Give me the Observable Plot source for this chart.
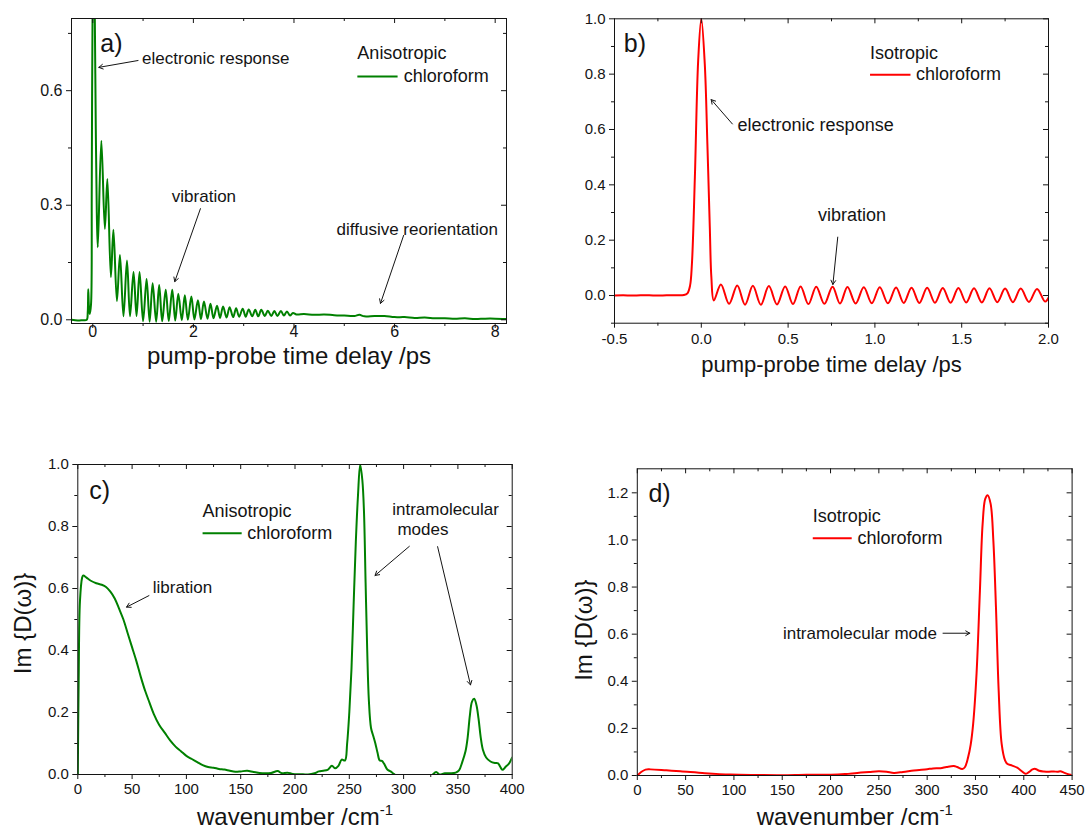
<!DOCTYPE html>
<html>
<head>
<meta charset="utf-8">
<script src="https://cdn.jsdelivr.net/npm/d3@7"></script>
<script src="https://cdn.jsdelivr.net/npm/@observablehq/plot@0.6"></script>
<style>
  html, body { margin: 0; padding: 0; background: #fff; }
  #wrap { position: relative; width: 1086px; height: 832px; background: #fff; }
  .panel { position: absolute; }
</style>
</head>
<body>
<div id="wrap"></div>
<script>
// ---------------- DATA ----------------
// a) anisotropic chloroform, pump-probe signal vs time delay (ps)
const anisoTimeTrace = [
  [-0.42,0],[-0.3,-0.002],[-0.2,-0.001],[-0.12,0],[-0.1,0.02],[-0.09,0.08],[-0.075,0.03],[-0.06,0.015],
  [-0.035,0.04],[-0.02,0.35],[0,0.9],[0.02,1.0],[0.04,0.8],[0.06,0.5],[0.08,0.28],[0.10,0.19],
  [0.17,0.469],[0.24,0.238],[0.29,0.369],[0.36,0.112],[0.41,0.236],[0.48,0.049],[0.54,0.170],[0.61,0.009],
  [0.68,0.155],[0.74,0.009],[0.81,0.125],[0.87,0.010],[0.93,0.125],[1.00,-0.004],[1.07,0.107],[1.13,-0.005],
  [1.19,0.096],[1.26,-0.005],[1.32,0.091],[1.38,-0.004],[1.45,0.079],[1.51,-0.003],[1.58,0.079],[1.64,-0.002],
  [1.70,0.068],[1.77,-0.001],[1.83,0.064],[1.89,0.000],[1.96,0.061],[2.02,0.001],[2.09,0.051],[2.15,0.002],
  [2.21,0.048],[2.28,0.003],[2.34,0.042],[2.40,0.004],[2.47,0.037],[2.53,0.005],[2.59,0.035],[2.66,0.006],
  [2.72,0.033],[2.79,0.007],[2.85,0.030],[2.91,0.008],[2.98,0.029],[3.04,0.008],[3.10,0.027],[3.17,0.009],
  [3.23,0.026],[3.29,0.009],[3.35,0.026],[3.42,0.010],[3.48,0.024],[3.55,0.010],[3.61,0.023],[3.67,0.010],
  [3.74,0.023],[3.80,0.011],[3.86,0.022],[3.92,0.011],[3.98,0.018],[4.05,0.014],[4.2,0.015],[4.4,0.013],
  [4.6,0.014],[4.8,0.012],[5.0,0.011],[5.2,0.010],[5.3,0.013],[5.4,0.009],[5.6,0.010],[5.8,0.010],
  [6.0,0.007],[6.2,0.007],[6.4,0.005],[6.6,0.006],[6.8,0.004],[7.0,0.004],[7.2,0.003],[7.4,0.004],
  [7.6,0.002],[7.8,0.003],[8.0,0.003],[8.22,0.002]
];

// b) isotropic chloroform, pump-probe signal vs time delay (ps)
const isoTimeTrace = [
  [-0.5,0],[-0.45,0.001],[-0.4,0],[-0.35,0.001],[-0.3,0.001],[-0.25,0],[-0.2,0.001],[-0.15,0.001],
  [-0.1,0.002],[-0.08,0.008],[-0.065,0.035],[-0.054,0.115],[-0.037,0.428],[-0.018,0.849],[0,1.0],
  [0.02,0.837],[0.035,0.548],[0.049,0.247],[0.058,0.066],[0.072,-0.018],
  [0.113,0.040],[0.160,-0.030],[0.207,0.036],[0.252,-0.033],[0.297,0.035],[0.343,-0.033],[0.389,0.034],
  [0.436,-0.032],[0.483,0.033],[0.528,-0.031],[0.572,0.033],[0.617,-0.031],[0.662,0.032],[0.709,-0.030],
  [0.756,0.032],[0.799,-0.029],[0.842,0.031],[0.889,-0.029],[0.936,0.030],[0.982,-0.028],[1.028,0.030],
  [1.075,-0.028],[1.122,0.029],[1.166,-0.027],[1.211,0.028],[1.256,-0.027],[1.301,0.028],[1.346,-0.026],
  [1.391,0.027],[1.436,-0.026],[1.481,0.027],[1.526,-0.025],[1.571,0.026],[1.616,-0.025],[1.660,0.026],
  [1.705,-0.024],[1.750,0.025],[1.795,-0.024],[1.840,0.025],[1.887,-0.023],[1.934,0.024],[1.980,-0.022],
  [2.0,-0.008]
];

// c) anisotropic chloroform, Im{D(w)} vs wavenumber (cm-1)
const anisoSpectrum = [
  [0,0],[0.8,0.30],[2,0.56],[4,0.635],[5,0.642],[8,0.635],[12,0.625],[17,0.617],[22,0.612],[26,0.605],
  [30,0.59],[34,0.568],[38,0.535],[42,0.5],[46,0.455],[50,0.41],[54,0.365],[58,0.315],[62,0.27],[66,0.232],
  [70,0.195],[75,0.16],[80,0.135],[85,0.11],[90,0.09],[95,0.075],[100,0.06],[105,0.05],[110,0.04],
  [115,0.03],[120,0.024],[125,0.022],[130,0.018],[135,0.016],[140,0.012],[145,0.009],[150,0.010],
  [156,0.012],[162,0.008],[170,0.004],[178,0.005],[184,0.011],[188,0.004],[193,0.006],[198,0.002],
  [205,0.001],[212,0.0],[218,0.004],[222,0.010],[226,0.012],[230,0.015],[234,0.028],[237,0.020],
  [240,0.028],[243,0.048],[246,0.045],[248,0.10],[250,0.20],[252,0.34],[254,0.55],[256,0.75],[258,0.90],
  [260,1.0],[262,0.95],[263.5,0.85],[265,0.62],[266.5,0.40],[268,0.24],[270,0.15],[272,0.125],[274,0.10],
  [276,0.07],[278,0.045],[280,0.044],[282,0.035],[285,0.016],[288,0.010],[291,0.002],[296,-0.01],
  [305,-0.02],[315,-0.02],[325,-0.005],[330,0.008],[333,0.0],[338,0.004],[343,0.004],[348,0.006],
  [351,0.013],[354,0.04],[357,0.075],[359,0.12],[361,0.19],[363,0.235],[365,0.244],[367,0.225],
  [369,0.18],[371,0.12],[373,0.08],[376,0.055],[380,0.042],[384,0.037],[387,0.036],[389,0.025],
  [391,0.015],[394,0.025],[397,0.035],[400,0.055]
];

// d) isotropic chloroform, Im{D(w)} vs wavenumber (cm-1)
const isoSpectrum = [
  [0,0],[4,0.015],[8.5,0.025],[13.7,0.026],[30,0.022],[44.7,0.018],[70,0.01],[96.5,0.004],[125,0.002],
  [150,0.001],[175,0.003],[200,0.003],[215,0.006],[227.6,0.011],[240,0.015],[250,0.018],[258,0.016],
  [265.5,0.011],[275,0.015],[286.2,0.021],[300,0.027],[306,0.030],[313.8,0.031],[320,0.036],[327.6,0.040],
  [331,0.036],[336.3,0.028],[339,0.035],[342.4,0.078],[345,0.13],[347.6,0.219],[351.1,0.432],[354.6,0.785],
  [357.4,1.068],[360.1,1.174],[362.6,1.19],[365.7,1.153],[368.5,0.997],[371.2,0.714],[374,0.361],
  [377.1,0.134],[380.6,0.064],[382.8,0.050],[388,0.042],[393.2,0.033],[398,0.018],[401.8,0.007],
  [405.2,0.014],[409,0.026],[412.1,0.028],[416,0.02],[420.7,0.017],[426,0.016],[431.1,0.017],[435,0.016],
  [438,0.018],[441,0.013],[444.9,0.007],[448.3,0.003],[450,0.002]
];

// tick values
const ticksA = { xMajor: [0,2,4,6,8], xMinor: [1,3,5,7], yMajor: [0,0.3,0.6], yMinor: [0.15,0.45,0.75] };
const ticksB = { xMajor: [-0.5,0,0.5,1,1.5,2], xMinor: [-0.25,0.25,0.75,1.25,1.75],
                 yMajor: [0,0.2,0.4,0.6,0.8,1.0], yMinor: [-0.1,0.1,0.3,0.5,0.7,0.9] };
const ticksC = { xMajor: [0,50,100,150,200,250,300,350,400], xMinor: [25,75,125,175,225,275,325,375],
                 yMajor: [0,0.2,0.4,0.6,0.8,1.0], yMinor: [0.1,0.3,0.5,0.7,0.9] };
const ticksD = { xMajor: [0,50,100,150,200,250,300,350,400,450], xMinor: [25,75,125,175,225,275,325,375,425],
                 yMajor: [0,0.2,0.4,0.6,0.8,1.0,1.2], yMinor: [0.1,0.3,0.5,0.7,0.9,1.1] };

// texts
const timeAxisLabel = "pump-probe time delay /ps";
const waveAxisLabel = "wavenumber /cm";
const waveAxisSup = "-1";
const specAxisLabel = "Im {D(\u03c9)}";

// annotations (data coordinates)
const letterA = {label: "a)", x: 0.15, y: 0.723};
const legendA = {title: "Anisotropic", name: "chloroform", x: 5.26, x2: 6.06, xName: 6.18, yTitle: 0.697, yLine: 0.637};
const notesA = [
  {label: "electronic response", x: 0.98, y: 0.683, anchor: "start"},
  {label: "vibration", x: 2.21, y: 0.324, anchor: "middle"},
  {label: "diffusive reorientation", x: 6.45, y: 0.236, anchor: "middle"}
];
const arrowsA = [
  {x1: 0.90, y1: 0.679, x2: 0.12, y2: 0.661},
  {x1: 2.14, y1: 0.291, x2: 1.63, y2: 0.100},
  {x1: 6.18, y1: 0.221, x2: 5.72, y2: 0.043}
];

const letterB = {label: "b)", x: -0.446, y: 0.910};
const legendB = {title: "Isotropic", name: "chloroform", x: 0.972, x2: 1.205, xName: 1.237, yTitle: 0.876, yLine: 0.798};
const notesB = [
  {label: "electronic response", x: 0.209, y: 0.614, anchor: "start"},
  {label: "vibration", x: 0.868, y: 0.289, anchor: "middle"}
];
const arrowsB = [
  {x1: 0.179, y1: 0.620, x2: 0.057, y2: 0.708},
  {x1: 0.786, y1: 0.211, x2: 0.758, y2: 0.040}
];

const letterC = {label: "c)", x: 10.5, y: 0.916};
const legendC = {title: "Anisotropic", name: "chloroform", x: 114.9, x2: 150.9, xName: 156.0, yTitle: 0.849, yLine: 0.778};
const notesC = [
  {label: "libration", x: 69.0, y: 0.602, anchor: "start"},
  {label: "intramolecular", x: 289.5, y: 0.855, anchor: "start"},
  {label: "modes", x: 294.3, y: 0.789, anchor: "start"}
];
const arrowsC = [
  {x1: 65.5, y1: 0.577, x2: 44.9, y2: 0.540},
  {x1: 305.3, y1: 0.736, x2: 273.7, y2: 0.642},
  {x1: 331.3, y1: 0.735, x2: 361.6, y2: 0.289}
];

const letterD = {label: "d)", x: 11.5, y: 1.196};
const legendD = {title: "Isotropic", name: "chloroform", x: 181.6, x2: 221.9, xName: 227.8, yTitle: 1.099, yLine: 1.007};
const notesD = [
  {label: "intramolecular mode", x: 310.1, y: 0.604, anchor: "end"}
];
const arrowsD = [
  {x1: 316.4, y1: 0.604, x2: 344.1, y2: 0.604}
];

// ---------------- DRAWING ----------------
const FONT = '"Liberation Sans", Arial, Helvetica, sans-serif';
const GREEN = "#008000";
const RED = "#ff0000";
const INK = "#141414";

function buildPanel(c) {
  const pts = c.trace.map(([x, y]) => ({x, y}));
  const [mL, mR, mT, mB] = c.m;
  const iw = c.width - mL - mR;
  const ih = c.height - mT - mB;
  const tk = {stroke: INK, strokeWidth: 1};
  const noteMarks = ["start", "middle", "end"].map(a =>
    Plot.text(c.notes.filter(d => d.anchor === a), {
      x: "x", y: "y", text: "label", textAnchor: a, lineAnchor: "middle",
      fontSize: c.noteFont, fill: INK
    }));
  const marks = [
    Plot.line(pts, {x: "x", y: "y", stroke: c.color, strokeWidth: 2, curve: "catmull-rom", clip: true}),
    Plot.frame({stroke: INK, strokeWidth: 1}),
    // bottom ticks (outward)
    Plot.tickX(c.ticks.xMajor, {x: d => d, insetTop: ih, insetBottom: -5, ...tk}),
    Plot.tickX(c.ticks.xMinor, {x: d => d, insetTop: ih, insetBottom: -3, ...tk}),
    // top ticks (inward)
    Plot.tickX(c.ticks.xMajor, {x: d => d, insetTop: 0, insetBottom: ih - 5, ...tk}),
    Plot.tickX(c.ticks.xMinor, {x: d => d, insetTop: 0, insetBottom: ih - 3, ...tk}),
    // left ticks (outward)
    Plot.tickY(c.ticks.yMajor, {y: d => d, insetLeft: -5, insetRight: iw, ...tk}),
    Plot.tickY(c.ticks.yMinor, {y: d => d, insetLeft: -3, insetRight: iw, ...tk}),
    // right ticks (inward)
    Plot.tickY(c.ticks.yMajor, {y: d => d, insetLeft: iw - 5, insetRight: 0, ...tk}),
    Plot.tickY(c.ticks.yMinor, {y: d => d, insetLeft: iw - 3, insetRight: 0, ...tk}),
    // tick labels
    Plot.axisX({ticks: c.ticks.xMajor, tickSize: 0, tickPadding: c.xPad, tickFormat: c.xFmt,
                fontSize: c.tickFont, label: null, fill: INK}),
    Plot.axisY({ticks: c.ticks.yMajor, tickSize: 0, tickPadding: 9, tickFormat: c.yFmt,
                fontSize: c.tickFont, label: null, fill: INK}),
    Plot.text([c.letter], {x: "x", y: "y", text: "label", textAnchor: "start", lineAnchor: "middle", fontSize: 25, fill: INK}),
    Plot.text([c.legend], {x: "x", y: "yTitle", text: "title", textAnchor: "start", lineAnchor: "middle", fontSize: c.legendFont, fill: INK}),
    Plot.link([c.legend], {x1: "x", x2: "x2", y1: "yLine", y2: "yLine", stroke: c.color, strokeWidth: 2}),
    Plot.text([c.legend], {x: "xName", y: "yLine", text: "name", textAnchor: "start", lineAnchor: "middle", fontSize: c.legendFont, fill: INK}),
    ...noteMarks,
    Plot.arrow(c.arrows, {x1: "x1", y1: "y1", x2: "x2", y2: "y2", stroke: INK, strokeWidth: 1, headLength: 7}),
    Plot.text([c.xLabel], {text: d => d, frameAnchor: "bottom", dy: c.xLabelDy, lineAnchor: "bottom",
                           textAnchor: "middle", fontSize: c.xLabelFont, fill: INK})
  ];
  if (c.yLabel) {
    marks.push(Plot.text([c.yLabel], {text: d => d, frameAnchor: "left", dx: c.yLabelDx, dy: c.yLabelDy,
      rotate: -90, textAnchor: "middle", lineAnchor: "middle", fontSize: 24, fill: INK}));
  }
  const svg = Plot.plot({
    width: c.width, height: c.height,
    marginLeft: mL, marginRight: mR, marginTop: mT, marginBottom: mB,
    style: {fontFamily: FONT, fontSize: c.tickFont + "px", color: INK, background: "transparent", overflow: "visible"},
    x: {domain: c.xDomain, label: null},
    y: {domain: c.yDomain, label: null},
    marks
  });
  // superscript for the wavenumber unit
  if (c.xLabel === waveAxisLabel) {
    svg.querySelectorAll("text").forEach(t => {
      if (t.textContent === waveAxisLabel) {
        const ts = document.createElementNS("http://www.w3.org/2000/svg", "tspan");
        ts.setAttribute("dy", "-10");
        ts.setAttribute("font-size", "15");
        ts.textContent = waveAxisSup;
        t.appendChild(ts);
      }
    });
  }
  const div = document.createElement("div");
  div.className = "panel";
  div.style.left = c.left + "px";
  div.style.top = c.top + "px";
  div.appendChild(svg);
  document.getElementById("wrap").appendChild(div);
}

const f0 = d => d.toFixed(0);
const f1 = d => d.toFixed(1);

buildPanel({
  left: 0, top: 0, width: 540, height: 400, m: [71, 34, 18, 77],
  xDomain: [-0.423, 8.225], yDomain: [-0.0097, 0.789],
  ticks: ticksA, xFmt: f0, yFmt: f1, tickFont: 16, xPad: 2,
  trace: anisoTimeTrace, color: GREEN,
  letter: letterA, legend: legendA, notes: notesA, arrows: arrowsA,
  noteFont: 17, legendFont: 18,
  xLabel: timeAxisLabel, xLabelFont: 24, xLabelDy: 40
});

buildPanel({
  left: 540, top: 0, width: 546, height: 400, m: [74, 38, 18.3, 77.3],
  xDomain: [-0.5, 2.0], yDomain: [-0.1, 1.0],
  ticks: ticksB, xFmt: f1, yFmt: f1, tickFont: 15, xPad: 10,
  trace: isoTimeTrace, color: RED,
  letter: letterB, legend: legendB, notes: notesB, arrows: arrowsB,
  noteFont: 18, legendFont: 18,
  xLabel: timeAxisLabel, xLabelFont: 22, xLabelDy: 49
});

buildPanel({
  left: 0, top: 400, width: 540, height: 432, m: [77.3, 28.3, 64, 58],
  xDomain: [0, 400], yDomain: [0, 1.0],
  ticks: ticksC, xFmt: f0, yFmt: f1, tickFont: 15, xPad: 9,
  trace: anisoSpectrum, color: GREEN,
  letter: letterC, legend: legendC, notes: notesC, arrows: arrowsC,
  noteFont: 17, legendFont: 18,
  xLabel: waveAxisLabel, xLabelFont: 24, xLabelDy: 50,
  yLabel: specAxisLabel, yLabelDx: -54.5, yLabelDy: 4
});

buildPanel({
  left: 540, top: 400, width: 546, height: 432, m: [96.8, 14.4, 68.3, 57],
  xDomain: [0, 450], yDomain: [0, 1.302],
  ticks: ticksD, xFmt: f0, yFmt: f1, tickFont: 15, xPad: 9,
  trace: isoSpectrum, color: RED,
  letter: letterD, legend: legendD, notes: notesD, arrows: arrowsD,
  noteFont: 17, legendFont: 18,
  xLabel: waveAxisLabel, xLabelFont: 24, xLabelDy: 49,
  yLabel: specAxisLabel, yLabelDx: -53, yLabelDy: 8
});
</script>
</body>
</html>
